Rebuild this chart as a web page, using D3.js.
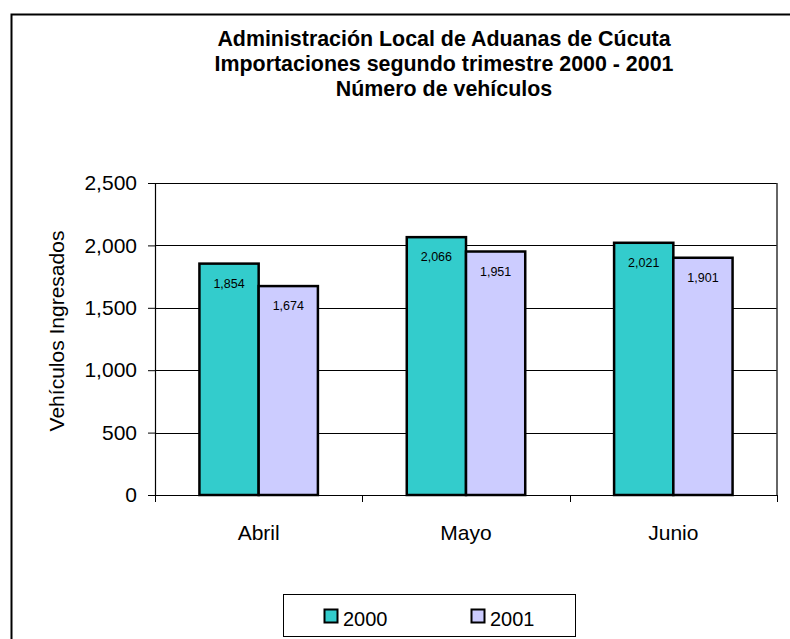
<!DOCTYPE html>
<html>
<head>
<meta charset="utf-8">
<script src="https://cdn.jsdelivr.net/npm/d3@7"></script>
<style>
  body { margin: 0; background: #fff; }
  svg { display: block; font-family: "Liberation Sans", Arial, sans-serif; }
</style>
</head>
<body>
<div id="chart"></div>
<script>
// data
const months = ["Abril", "Mayo", "Junio"];
const years = ["2000", "2001"];
const values2000 = [1854, 2066, 2021];
const values2001 = [1674, 1951, 1901];
const yTicks = [0, 500, 1000, 1500, 2000, 2500];
const titleLines = [
  "Administración Local de Aduanas de Cúcuta",
  "Importaciones segundo trimestre 2000 - 2001",
  "Número de vehículos",
];
const colors = ["#33CCCC", "#CCCCFF"];

const width = 790;
const height = 639;
const plot = { left: 155, right: 777, top: 183, bottom: 495 };

const svg = d3
  .select("#chart")
  .append("svg")
  .attr("width", width)
  .attr("height", height);

// outer chart border (runs off the right and bottom edge)
svg
  .append("rect")
  .attr("x", 11.5)
  .attr("y", 14.5)
  .attr("width", 900)
  .attr("height", 800)
  .attr("fill", "none")
  .attr("stroke", "#000")
  .attr("stroke-width", 2);

// title
svg
  .append("g")
  .selectAll("text")
  .data(titleLines)
  .join("text")
  .attr("x", 444)
  .attr("y", (d, i) => 46 + i * 25)
  .attr("text-anchor", "middle")
  .style("font-size", "21.4px")
  .style("font-weight", "bold")
  .text((d) => d);

const x = d3
  .scaleBand()
  .domain(months)
  .range([plot.left, plot.right])
  .padding(0);

const barW = x.bandwidth() / 3.5;
const xInner = d3
  .scaleBand()
  .domain(years)
  .range([0, barW * 2]);

const y = d3.scaleLinear().domain([0, 2500]).range([plot.bottom, plot.top]);

// gridlines
svg
  .append("g")
  .selectAll("line")
  .data(yTicks.filter((d) => d > 0))
  .join("line")
  .attr("x1", plot.left)
  .attr("x2", plot.right)
  .attr("y1", (d) => Math.round(y(d)) + 0.5)
  .attr("y2", (d) => Math.round(y(d)) + 0.5)
  .attr("stroke", "#000")
  .attr("stroke-width", 1);

// right frame edge
svg
  .append("line")
  .attr("x1", plot.right)
  .attr("x2", plot.right)
  .attr("y1", plot.top)
  .attr("y2", plot.bottom)
  .attr("stroke", "#333")
  .attr("stroke-width", 1.5);

// y axis
const yAxis = svg
  .append("g")
  .attr("transform", `translate(${plot.left},0)`)
  .call(
    d3
      .axisLeft(y)
      .tickValues(yTicks)
      .tickSize(7)
      .tickPadding(11)
      .tickFormat(d3.format(","))
  );
yAxis.select(".domain").attr("stroke", "#000").attr("stroke-width", 1.2);
yAxis.selectAll(".tick line").attr("stroke", "#000");
yAxis
  .selectAll(".tick text")
  .style("font-size", "21px")
  .style("font-family", "'Liberation Sans', Arial, sans-serif")
  .attr("fill", "#000");

// x axis: ticks at the category boundaries
const xAxis = svg.append("g");
xAxis
  .append("line")
  .attr("x1", plot.left)
  .attr("x2", plot.right)
  .attr("y1", plot.bottom + 0.5)
  .attr("y2", plot.bottom + 0.5)
  .attr("stroke", "#000")
  .attr("stroke-width", 1.2);
const bounds = months.map((m) => x(m)).concat([plot.right]);
xAxis
  .selectAll(".xtick")
  .data(bounds)
  .join("line")
  .attr("class", "xtick")
  .attr("x1", (d) => Math.round(d) + 0.5)
  .attr("x2", (d) => Math.round(d) + 0.5)
  .attr("y1", plot.bottom)
  .attr("y2", plot.bottom + 7)
  .attr("stroke", "#000");
xAxis
  .selectAll(".xlabel")
  .data(months)
  .join("text")
  .attr("class", "xlabel")
  .attr("x", (d) => x(d) + x.bandwidth() / 2)
  .attr("y", 540)
  .attr("text-anchor", "middle")
  .style("font-size", "21px")
  .text((d) => d);

// y axis title
svg
  .append("text")
  .attr("transform", "translate(64,331) rotate(-90)")
  .attr("text-anchor", "middle")
  .style("font-size", "21px")
  .text("Vehículos Ingresados");

// bars
const rows = months.map((m, i) => ({
  month: m,
  vals: [
    { year: years[0], value: values2000[i], color: colors[0] },
    { year: years[1], value: values2001[i], color: colors[1] },
  ],
}));

const groups = svg
  .append("g")
  .selectAll("g")
  .data(rows)
  .join("g")
  .attr(
    "transform",
    (d) => `translate(${x(d.month) + (x.bandwidth() - barW * 2) / 2},0)`
  );

groups
  .selectAll("rect")
  .data((d) => d.vals)
  .join("rect")
  .attr("x", (d) => xInner(d.year))
  .attr("y", (d) => y(d.value))
  .attr("width", xInner.bandwidth())
  .attr("height", (d) => y(0) - y(d.value))
  .attr("fill", (d) => d.color)
  .attr("stroke", "#000")
  .attr("stroke-width", 2.5);

groups
  .selectAll("text")
  .data((d) => d.vals)
  .join("text")
  .attr("x", (d) => xInner(d.year) + xInner.bandwidth() / 2)
  .attr("y", (d) => y(d.value) + 24)
  .attr("text-anchor", "middle")
  .style("font-size", "12.5px")
  .text((d) => d3.format(",")(d.value));

// legend
const legend = svg.append("g");
legend
  .append("rect")
  .attr("x", 283.5)
  .attr("y", 594.5)
  .attr("width", 292)
  .attr("height", 42)
  .attr("fill", "#fff")
  .attr("stroke", "#000")
  .attr("stroke-width", 1);

const legendX = [324, 471];
const items = legend
  .selectAll("g")
  .data(years)
  .join("g")
  .attr("transform", (d, i) => `translate(${legendX[i]},609)`);
items
  .append("rect")
  .attr("x", 0.5)
  .attr("y", 0.5)
  .attr("width", 13)
  .attr("height", 13)
  .attr("fill", (d, i) => colors[i])
  .attr("stroke", "#000")
  .attr("stroke-width", 2);
items
  .append("text")
  .attr("x", 19)
  .attr("y", 16.5)
  .style("font-size", "20px")
  .text((d) => d);
</script>
</body>
</html>
